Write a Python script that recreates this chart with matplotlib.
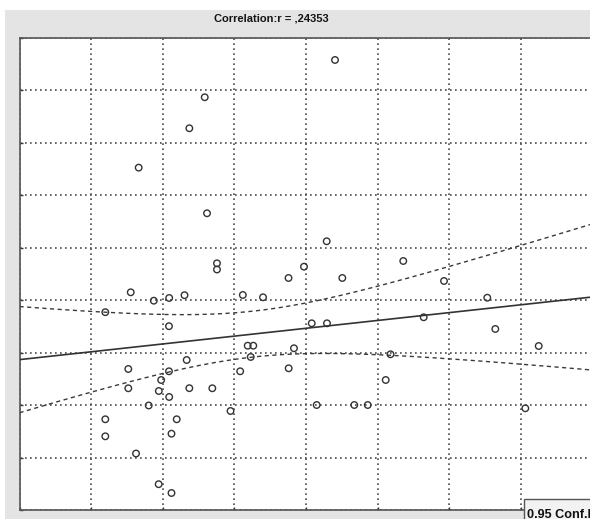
import numpy as np
import matplotlib
matplotlib.use("Agg")
import matplotlib.pyplot as plt
from matplotlib.patches import Rectangle
from matplotlib import font_manager

# ---- data (arbitrary units: x grid step 1, y grid step 1) ----
x_vals = [4.405, 2.586, 2.371, 1.664, 2.618, 4.289, 2.757, 2.757, 1.553, 1.875,
          2.090, 2.304, 1.198, 2.087, 3.118, 3.400, 3.756, 3.972, 4.507, 5.358,
          5.927, 6.531, 5.643, 6.643, 7.249, 4.080, 4.293, 3.186, 3.264, 3.228,
          3.832, 5.180, 2.334, 1.519, 2.087, 3.081, 3.758, 1.978, 1.519, 1.945,
          2.090, 2.371, 2.692, 5.113, 1.804, 2.946, 4.149, 4.674, 4.862, 7.062,
          1.198, 2.195, 1.198, 2.122, 1.627, 1.943, 2.122]
y_vals = [8.581, 7.870, 7.279, 6.528, 5.658, 5.124, 4.704, 4.586, 4.151, 3.991,
          4.043, 4.096, 3.772, 3.505, 4.100, 4.056, 4.424, 4.640, 4.424, 4.748,
          4.367, 4.048, 3.675, 3.452, 3.127, 3.560, 3.560, 3.133, 3.133, 2.918,
          3.084, 2.969, 2.860, 2.689, 2.645, 2.645, 2.702, 2.479, 2.321, 2.269,
          2.155, 2.323, 2.321, 2.479, 1.993, 1.888, 2.002, 2.002, 2.002, 1.939,
          1.730, 1.730, 1.405, 1.455, 1.077, 0.492, 0.324]
title_text = "Correlation:r = ,24353"
legend_text = "0.95 Conf.Int."
conf_level = 0.95

x = np.array(x_vals)
y = np.array(y_vals)
n = len(x)

# regression and confidence band
slope, intercept = np.polyfit(x, y, 1)
resid = y - (intercept + slope * x)
s = np.sqrt(np.sum(resid ** 2) / (n - 2))
xbar = x.mean()
sxx = np.sum((x - xbar) ** 2)
t_crit = 2.004  # t(0.975, df=55)
xs = np.linspace(0, 8.2, 300)
yhat = intercept + slope * xs
half = t_crit * s * np.sqrt(1.0 / n + (xs - xbar) ** 2 / sxx)

W, H = 590, 519
fig = plt.figure(figsize=(W / 100, H / 100), dpi=100, facecolor="#e4e4e4")

# white margins at the top and left of the screenshot
fig.patches.append(Rectangle((0, 1 - 10 / H), 1, 10 / H, transform=fig.transFigure,
                             facecolor="white", edgecolor="none", zorder=0))
fig.patches.append(Rectangle((0, 0), 5 / W, 1, transform=fig.transFigure,
                             facecolor="white", edgecolor="none", zorder=0))

left, right, top, bottom = 19.5, 592.5, 38, 510
ax = fig.add_axes([left / W, (H - bottom) / H, (right - left) / W, (bottom - top) / H])
ax.set_facecolor("white")
ax.set_xlim(0, 8)
ax.set_ylim(0, 9)
ax.set_xticks(np.arange(0, 9, 1))
ax.set_yticks(np.arange(0, 10, 1))
ax.tick_params(direction="in", length=2, width=1, colors="#333333",
               labelleft=False, labelbottom=False)
ax.grid(True, color="#4a4a4a", linestyle=(0, (1, 2)), linewidth=1.2)
ax.set_axisbelow(True)
for sp in ax.spines.values():
    sp.set_color("#555555")
    sp.set_linewidth(1.2)

ax.plot(xs, yhat, color="#333333", linewidth=1.2, zorder=3)
ax.plot(xs, yhat + half, color="#3a3a3a", linewidth=1.0, linestyle=(0, (3, 2.5)), zorder=3)
ax.plot(xs, yhat - half, color="#3a3a3a", linewidth=1.0, linestyle=(0, (3, 2.5)), zorder=3)
ax.scatter(x, y, s=22, facecolors="none", edgecolors="#333333", linewidths=1.0, zorder=4)

installed = {f.name for f in font_manager.fontManager.ttflist}
fam = [f for f in ["Liberation Sans Narrow", "Liberation Sans", "DejaVu Sans"] if f in installed]

renderer = fig.canvas.get_renderer()

def fit_width(txt_obj, target_px, probe=None):
    """scale font size so the (probe) text reaches the target pixel width"""
    if probe is not None:
        full = txt_obj.get_text()
        txt_obj.set_text(probe)
    w = txt_obj.get_window_extent(renderer).width
    txt_obj.set_fontsize(txt_obj.get_fontsize() * target_px / w)
    if probe is not None:
        txt_obj.set_text(full)

title = fig.text(271 / W, 1 - 18.5 / H, title_text, ha="center", va="center",
                 fontsize=9, family=fam, fontweight="bold", color="#151515")
fit_width(title, 115)

# cropped legend box in the lower right corner
fig.patches.append(Rectangle((523.5 / W, -5 / H), 80 / W, 25 / H, transform=fig.transFigure,
                             facecolor="#f2f2f2", edgecolor="#555555", linewidth=1.0, zorder=5))
leg = fig.text(527 / W, 1.5 / H, legend_text, ha="left", va="baseline", fontsize=10,
               family=fam, fontweight="bold", color="#111111", zorder=6)
fit_width(leg, 57, probe="0.95 Conf")

fig.savefig("out.png", dpi=100, facecolor=fig.get_facecolor())
